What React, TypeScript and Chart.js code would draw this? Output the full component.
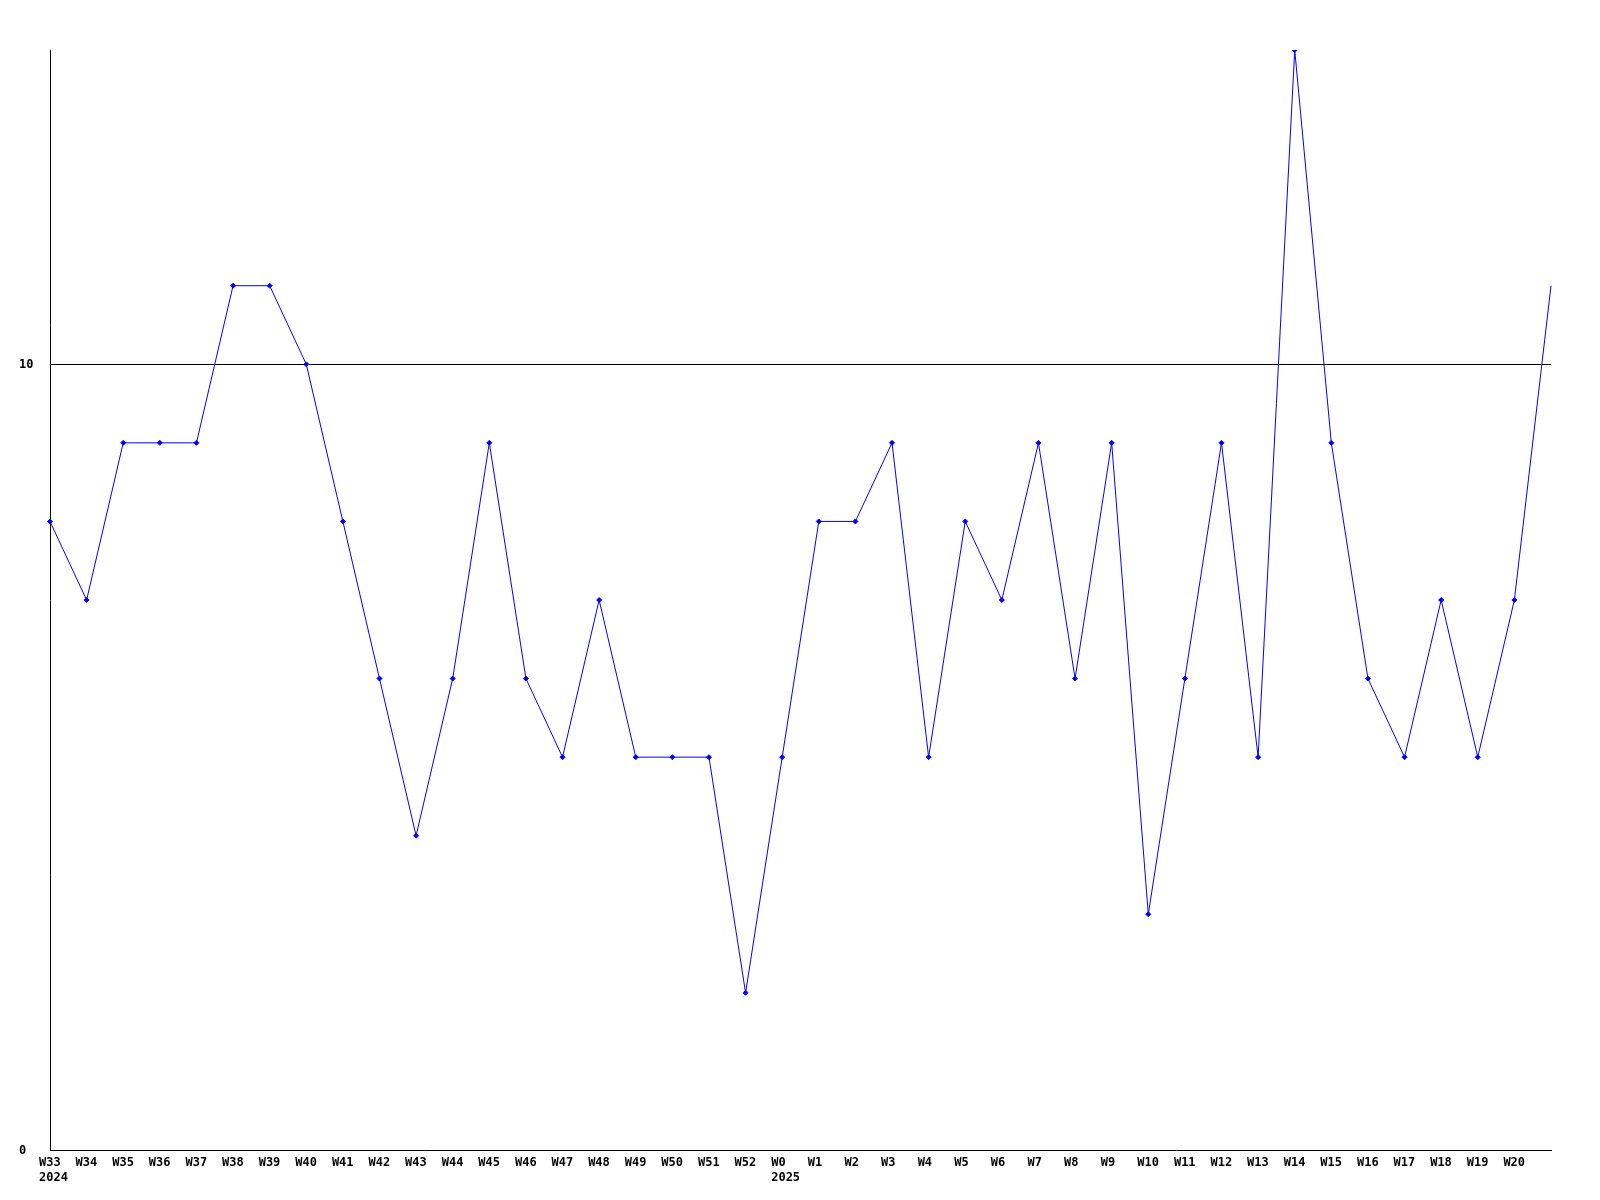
import React, { useEffect, useRef } from "react";
import { Chart, registerables } from "chart.js";

Chart.register(...registerables);

const weekLabels: (string | string[])[] = [
  ["W33", "2024"], "W34", "W35", "W36", "W37", "W38", "W39", "W40", "W41", "W42",
  "W43", "W44", "W45", "W46", "W47", "W48", "W49", "W50", "W51", "W52",
  ["W0", "2025"], "W1", "W2", "W3", "W4", "W5", "W6", "W7", "W8", "W9",
  "W10", "W11", "W12", "W13", "W14", "W15", "W16", "W17", "W18", "W19",
  "W20", "",
];

const seriesValues: number[] = [
  8, 7, 9, 9, 9, 11, 11, 10, 8, 6,
  4, 6, 9, 6, 5, 7, 5, 5, 5, 2,
  5, 8, 8, 9, 5, 8, 7, 9, 6, 9,
  3, 6, 9, 5, 14, 9, 6, 5, 7, 5,
  7, 11,
];

const yTicks: number[] = [0, 10];

export default function App() {
  const ref = useRef<HTMLCanvasElement | null>(null);

  useEffect(() => {
    document.body.style.margin = "0";
    const canvas = ref.current;
    if (!canvas) return;
    const font = { family: "'DejaVu Sans Mono', monospace", size: 12, weight: "bold" as const };
    const last = seriesValues.length - 1;
    const chart = new Chart(canvas, {
      type: "line",
      data: {
        labels: weekLabels,
        datasets: [
          {
            data: seriesValues,
            borderColor: "#0000ff",
            backgroundColor: "#0000ff",
            borderWidth: 1,
            pointStyle: "rectRot",
            pointRadius: (ctx: any) => (ctx.dataIndex === last ? 0 : 2.5),
            pointBorderWidth: 1,
            pointBorderColor: "#0000ff",
            pointBackgroundColor: "#0000ff",
            tension: 0,
            fill: false,
          },
        ],
      },
      options: {
        animation: false,
        responsive: false,
        maintainAspectRatio: false,
        devicePixelRatio: 1,
        layout: { padding: { left: 19, right: 49, top: 50, bottom: 0 } },
        plugins: { legend: { display: false }, tooltip: { enabled: false }, title: { display: false } },
        scales: {
          x: {
            type: "category",
            offset: false,
            grid: { display: false, drawTicks: false },
            border: { display: true, color: "#000000", width: 1 },
            ticks: {
              color: "#000000",
              font,
              autoSkip: false,
              maxRotation: 0,
              minRotation: 0,
              align: "start",
              labelOffset: -11,
              padding: 6,
            },
            afterFit: (s: any) => {
              s.height = 50;
            },
          },
          y: {
            min: 0,
            max: 14,
            grid: {
              drawTicks: false,
              color: (ctx: any) => (ctx.tick && ctx.tick.value === 10 ? "#000000" : "rgba(0,0,0,0)"),
              lineWidth: 1,
            },
            border: { display: true, color: "#000000", width: 1 },
            afterBuildTicks: (s: any) => {
              s.ticks = yTicks.map((v) => ({ value: v }));
            },
            ticks: {
              color: "#000000",
              font,
              crossAlign: "far",
              padding: 0,
              labelOffset: 1,
            },
            afterFit: (s: any) => {
              s.width = 31;
            },
          },
        },
      },
    } as any);
    return () => chart.destroy();
  }, []);

  return <canvas ref={ref} width={1600} height={1200} style={{ display: "block", width: 1600, height: 1200 }} />;
}
